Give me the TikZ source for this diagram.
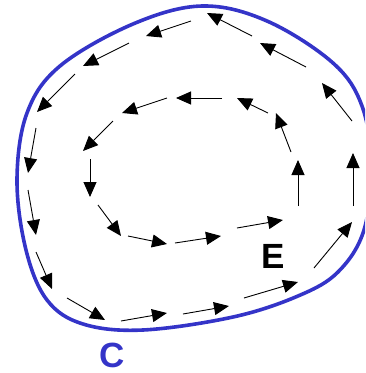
\documentclass[tikz,border=0pt]{standalone}
\usepackage{fontspec}
\setmainfont{Liberation Sans}
\usetikzlibrary{arrows.meta}
\definecolor{cblue}{RGB}{52,52,200}
\tikzset{
  fieldarrow/.style={draw=black, line width=0.9pt, -{Triangle[length=15pt,width=13pt]}},
  contour/.style={draw=cblue, line width=3.6pt},
  lbl/.style={font=\bfseries\fontsize{35}{35}\selectfont, inner sep=0pt}
}
\begin{document}
\begin{tikzpicture}[x=1pt,y=-1pt]
\useasboundingbox (0,0) rectangle (365,373);
\begin{scope}
\clip (0,0) rectangle (365,373);
\draw[contour] plot[smooth cycle, tension=0.6] coordinates {
(202,6) (267,21) (333,63) (362,106) (371,165) (364,230) (338,272) (298,296)
(233,317) (143,330) (83,324) (47,300) (26,250) (17,180) (27,113) (60,66) (133,24)};
\end{scope}
% outer arrows
\foreach \a/\b/\c/\d in {
191/21/146/36, 129/43/83/66, 75/74/37/112, 36/128/28/173, 28/190/36/235,
36/252/52/289, 67/298/105/320, 121/321/167/313, 183/314/229/306, 244/298/298/282,
314/268/352/222, 353/206/353/153, 352/121/322/83, 306/67/260/43, 252/36/207/13}
  \draw[fieldarrow] (\a,\b) -- (\c,\d);
% inner arrows
\foreach \a/\b/\c/\d in {
222/98/176/98, 167/98/122/113, 113/121/83/151, 90/159/90/197, 98/205/121/236,
128/236/167/244, 175/243/221/236, 237/228/283/220, 298/206/298/160, 291/152/276/113,
268/113/237/98}
  \draw[fieldarrow] (\a,\b) -- (\c,\d);
\node[lbl] (E) at (273,256) {E};
\node[lbl, text=cblue] (C) at (112,355) {C};
\end{tikzpicture}
\end{document}
